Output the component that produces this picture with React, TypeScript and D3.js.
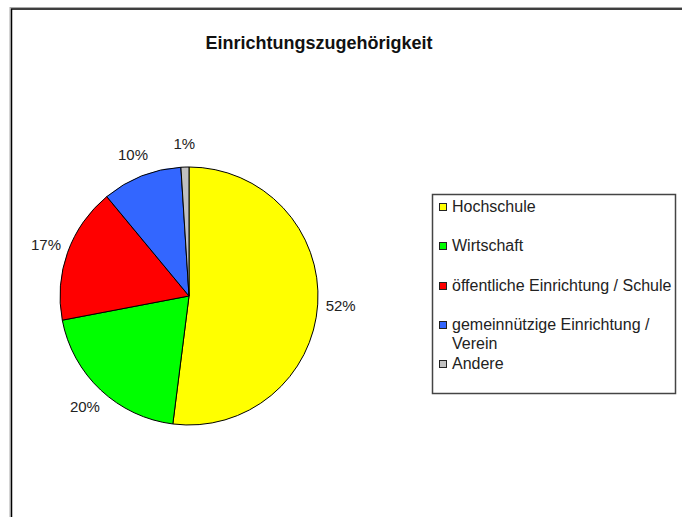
import React, { useRef, useEffect } from 'react';
import * as d3 from 'd3';

const categories = [
  'Hochschule',
  'Wirtschaft',
  'öffentliche Einrichtung / Schule',
  'gemeinnützige Einrichtung / Verein',
  'Andere',
];
const values = [52, 20, 17, 10, 1];
const colors = ['#ffff00', '#00ff00', '#ff0000', '#3366ff', '#c0c0c0'];
// legend lines (long labels wrap)
const legendLines = [
  ['Hochschule'],
  ['Wirtschaft'],
  ['öffentliche Einrichtung / Schule'],
  ['gemeinnützige Einrichtung /', 'Verein'],
  ['Andere'],
];
const legendRowY = [207, 246, 286, 325, 364];
const title = 'Einrichtungszugehörigkeit';

const W = 682;
const H = 517;
const FONT = '"Liberation Sans", Arial, sans-serif';

export default function App() {
  const svgRef = useRef<SVGSVGElement>(null);

  useEffect(() => {
    const svg = d3.select(svgRef.current);
    svg.selectAll('*').remove();

    // outer frame
    svg.append('rect')
      .attr('x', 10).attr('y', 7.5).attr('width', 700).attr('height', 540)
      .attr('fill', 'none').attr('stroke', '#aaa').attr('stroke-width', 1);
    svg.append('rect')
      .attr('x', 11.5).attr('y', 9).attr('width', 700).attr('height', 540)
      .attr('fill', 'none').attr('stroke', '#000').attr('stroke-width', 1.5);

    svg.append('text')
      .attr('x', 319).attr('y', 49)
      .attr('text-anchor', 'middle')
      .attr('font-family', FONT)
      .attr('font-weight', 'bold')
      .attr('font-size', 18)
      .attr('fill', '#111')
      .text(title);

    const cx = 189, cy = 296, r = 129;
    const pie = d3.pie<number>().sort(null).value(d => d);
    const arcs = pie(values);
    const arc = d3.arc<d3.PieArcDatum<number>>().innerRadius(0).outerRadius(r);
    const labelArc = d3.arc<d3.PieArcDatum<number>>().innerRadius(152).outerRadius(152);

    const g = svg.append('g').attr('transform', `translate(${cx},${cy})`);
    g.selectAll('path')
      .data(arcs)
      .join('path')
      .attr('d', arc)
      .attr('fill', (d, i) => colors[i])
      .attr('stroke', '#000')
      .attr('stroke-width', 1)
      .attr('stroke-linejoin', 'round');

    g.selectAll('text.lbl')
      .data(arcs)
      .join('text')
      .attr('class', 'lbl')
      .attr('x', d => labelArc.centroid(d)[0])
      .attr('y', d => labelArc.centroid(d)[1])
      .attr('text-anchor', 'middle')
      .attr('dy', '0.36em')
      .attr('font-family', FONT)
      .attr('font-size', 15)
      .attr('fill', '#222')
      .text(d => `${d.data}%`);

    // legend
    const lg = svg.append('g');
    lg.append('rect')
      .attr('x', 432.5).attr('y', 194.5).attr('width', 243).attr('height', 199)
      .attr('fill', '#fff').attr('stroke', '#444').attr('stroke-width', 1.5);

    const items = lg.selectAll('g.item')
      .data(categories)
      .join('g')
      .attr('class', 'item')
      .attr('transform', (d, i) => `translate(0,${legendRowY[i]})`);

    items.append('rect')
      .attr('x', 439.5).attr('y', -3.5).attr('width', 7).attr('height', 7)
      .attr('fill', (d, i) => colors[i])
      .attr('stroke', '#222').attr('stroke-width', 1);

    items.each(function (d, i) {
      const t = d3.select(this).append('text')
        .attr('font-family', FONT)
        .attr('font-size', 16)
        .attr('fill', '#222');
      legendLines[i].forEach((line, j) => {
        t.append('tspan')
          .attr('x', 452)
          .attr('y', 5 + j * 19)
          .text(line);
      });
    });
  }, []);

  return (
    <svg
      ref={svgRef}
      width={W}
      height={H}
      style={{ position: 'absolute', left: 0, top: 0, background: '#fff' }}
    />
  );
}
